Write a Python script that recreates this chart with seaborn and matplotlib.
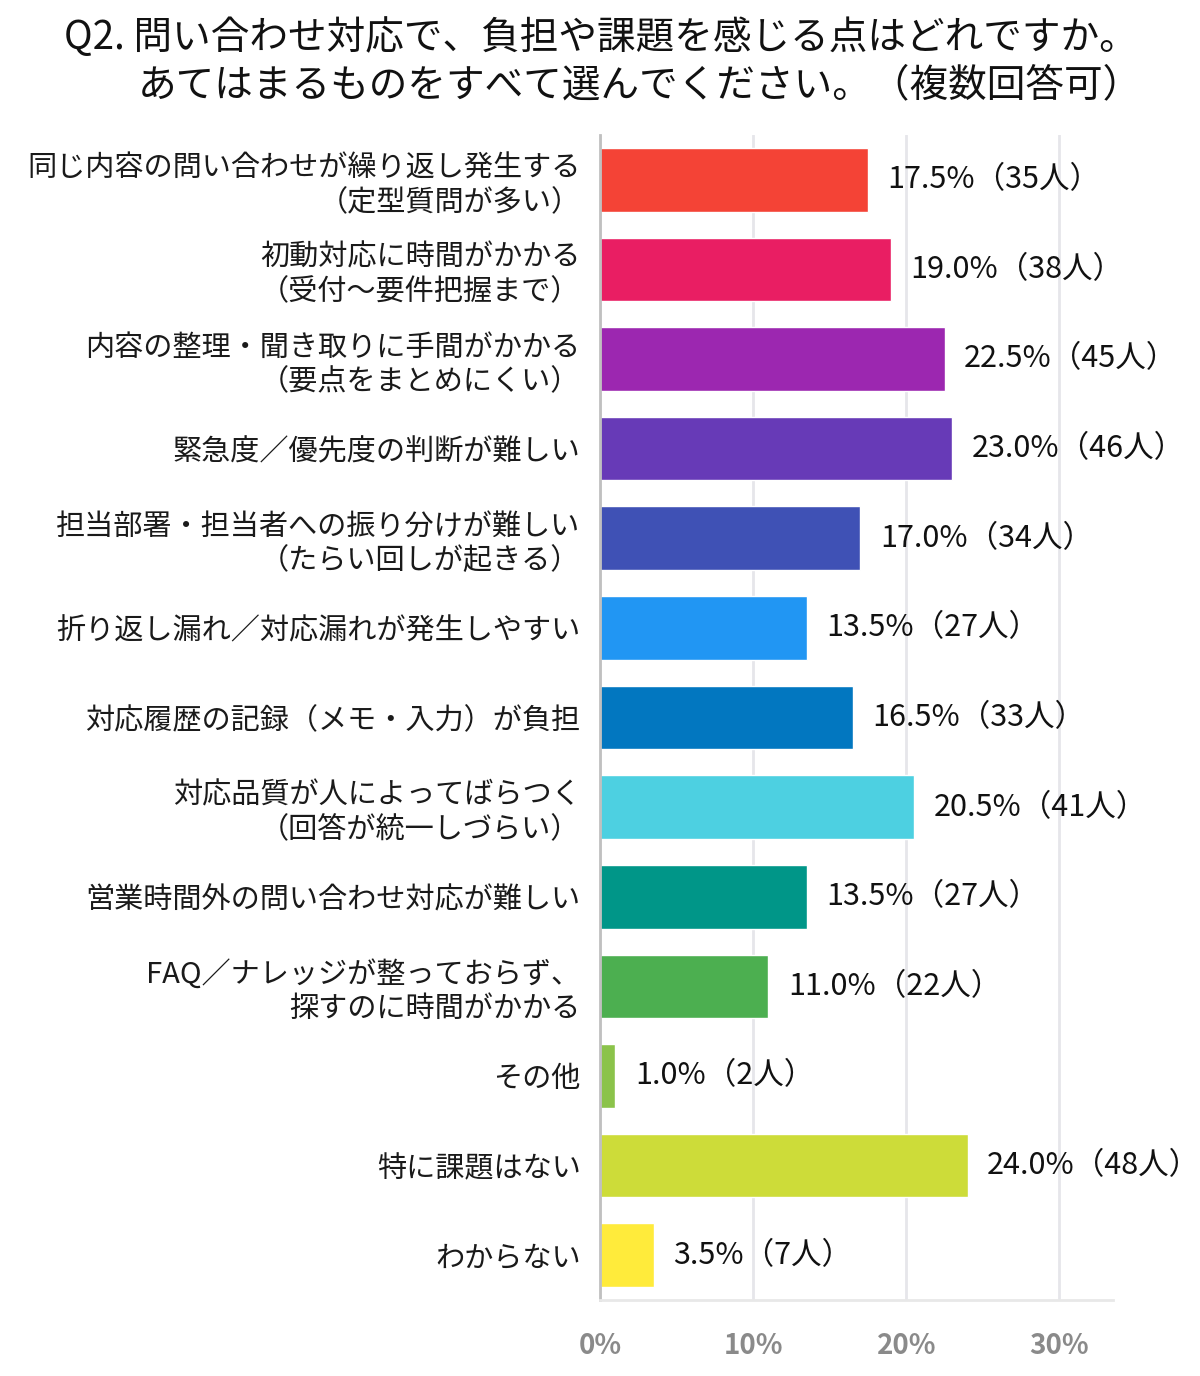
import matplotlib
matplotlib.use("Agg")
import matplotlib.pyplot as plt
import seaborn as sns
import pandas as pd

categories = [
    "同じ内容の問い合わせが繰り返し発生する\n（定型質問が多い）",
    "初動対応に時間がかかる\n（受付～要件把握まで）",
    "内容の整理・聞き取りに手間がかかる\n（要点をまとめにくい）",
    "緊急度／優先度の判断が難しい",
    "担当部署・担当者への振り分けが難しい\n（たらい回しが起きる）",
    "折り返し漏れ／対応漏れが発生しやすい",
    "対応履歴の記録（メモ・入力）が負担",
    "対応品質が人によってばらつく\n（回答が統一しづらい）",
    "営業時間外の問い合わせ対応が難しい",
    "FAQ／ナレッジが整っておらず、\n探すのに時間がかかる",
    "その他",
    "特に課題はない",
    "わからない",
]
percent = [17.5, 19.0, 22.5, 23.0, 17.0, 13.5, 16.5, 20.5, 13.5, 11.0, 1.0, 24.0, 3.5]
people = [35, 38, 45, 46, 34, 27, 33, 41, 27, 22, 2, 48, 7]
colors = ["#F44336", "#E91E63", "#9C27B0", "#673AB7", "#3F51B5", "#2196F3",
          "#0277C0", "#4DD0E1", "#009688", "#4CAF50", "#8BC34A", "#CDDC39", "#FFEB3B"]
xticks = [0, 10, 20, 30]
xtick_labels = ["0%", "10%", "20%", "30%"]
title_line1 = "Q2. 問い合わせ対応で、負担や課題を感じる点はどれですか。"
title_line2 = "あてはまるものをすべて選んでください。（複数回答可）"

sns.set_theme(style="white")
plt.rcParams["font.family"] = ["Noto Sans CJK JP", "DejaVu Sans"]

df = pd.DataFrame({"cat": categories, "pct": percent, "n": people})

fig = plt.figure(figsize=(12, 13.76), dpi=100)
ax = fig.add_axes([0.5, 1 - 1300 / 1376, (1113 - 600) / 1200, (1300 - 135) / 1376])

sns.barplot(data=df, x="pct", y="cat", hue="cat", palette=colors, legend=False,
            orient="h", width=0.71, saturation=1, ax=ax)

ax.set_xlim(0, 33.5)
ax.set_ylim(12.5, -0.5)
ax.set_xlabel("")
ax.set_ylabel("")
ax.set_xticks(xticks)
ax.set_xticklabels(xtick_labels, color="#8a8a8a", fontsize=20, fontweight="bold")
ax.grid(axis="x", color="#e6e6ea", linewidth=2)
ax.set_axisbelow(True)
ax.tick_params(axis="x", length=18, width=2, color="#e6e6ea", pad=5)
ax.tick_params(axis="y", length=0, pad=14, labelsize=21, labelcolor="#1a1a1a")
for s in ["top", "right"]:
    ax.spines[s].set_visible(False)
ax.spines["bottom"].set_color("#e8e8e8")
ax.spines["bottom"].set_linewidth(2)
ax.spines["left"].set_color("#c0c0c0")
ax.spines["left"].set_linewidth(2)
ax.spines["left"].set_bounds(12.5, -0.5)

for lbl in ax.get_yticklabels():
    lbl.set_linespacing(1.2)

for i, (p, n) in enumerate(zip(percent, people)):
    ax.annotate(f"{p:.1f}%（{n}人）", xy=(p, i), xytext=(14, 0), textcoords="offset points",
                va="center", ha="left", fontsize=22, color="#111111")

fig.text(601 / 1200, 1 - 38 / 1376, title_line1, ha="center", va="center", fontsize=27.8, color="#111111")
fig.text(640 / 1200, 1 - 85 / 1376, title_line2, ha="center", va="center", fontsize=27.8, color="#111111")

fig.savefig("out.png", dpi=100, facecolor="white")
